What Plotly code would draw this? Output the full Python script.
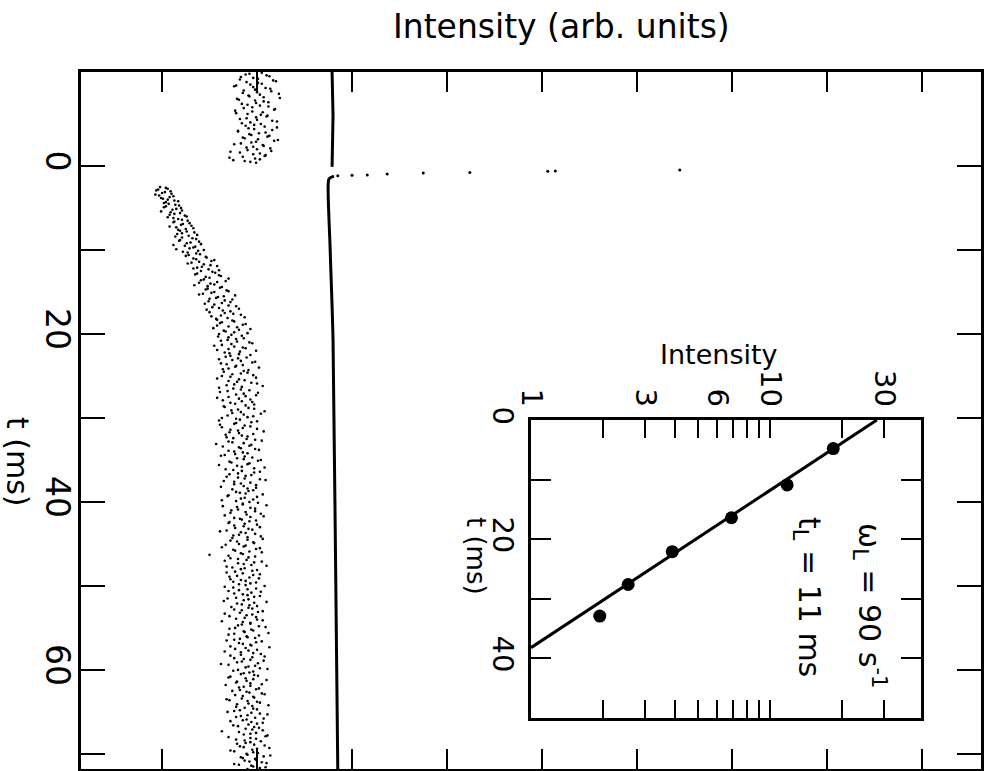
import numpy as np
import plotly.graph_objects as go

W, H = 992, 771

# ---------------- main panel data ----------------
# noisy probe signal, two interleaved sample sets every 0.2 ms (intensity, arb. units)
t_pre = np.round(np.arange(-11.1, -0.45, 0.2), 2)
I_pre = [205, 188, 213, 196, 182, 220, 201, 193, 176, 209,
         198, 215, 185, 203, 192, 224, 181, 207, 199, 190,
         212, 186, 218, 195, 178, 204, 210, 189, 200, 221,
         184, 197, 208, 191, 216, 180, 202, 194, 211, 187,
         222, 199, 183, 206, 196, 214, 190, 172, 203, 209,
         185, 198, 175, 193]
t_pre2 = np.round(np.arange(-11.0, -0.35, 0.2), 2)
I_pre2 = [192, 210, 183, 201, 217, 189, 205, 178, 196, 214,
          186, 200, 223, 191, 207, 179, 198, 212, 184, 203,
          195, 219, 177, 206, 190, 211, 199, 182, 216, 193,
          204, 188, 221, 197, 180, 209, 192, 213, 185, 201,
          218, 194, 176, 207, 189, 200, 215, 182, 196, 208,
          171, 203, 187, 199]

t_post = np.round(np.arange(2.5, 71.75, 0.2), 2)
I_post = [98, 106, 94, 103, 110, 97, 108, 101, 113, 104,
          107, 118, 102, 115, 121, 109, 113, 124, 106, 117,
          127, 112, 122, 131, 115, 125, 119, 134, 116, 128,
          121, 136, 118, 130, 141, 124, 133, 115, 138, 127,
          140, 125, 147, 136, 152, 131, 144, 158, 137, 149,
          141, 156, 135, 162, 150, 144, 167, 139, 155, 148,
          161, 146, 170, 152, 139, 165, 157, 174, 149, 163,
          155, 178, 160, 147, 172, 166, 183, 152, 169, 158,
          176, 161, 185, 170, 154, 181, 167, 190, 173, 159,
          186, 169, 179, 195, 163, 176, 188, 158, 182, 171,
          193, 167, 180, 174, 198, 162, 185, 177, 170, 191,
          165, 183, 196, 172, 158, 187, 179, 200, 168, 184,
          175, 192, 161, 186, 199, 170, 181, 164, 195, 177,
          188, 166, 197, 173, 183, 204, 169, 190, 178, 160,
          194, 176, 187, 163, 200, 180, 171, 196, 184, 168,
          189, 205, 174, 157, 192, 181, 198, 170, 185, 177,
          162, 195, 186, 201, 173, 190, 179, 208, 167, 184,
          197, 171, 188, 180, 203, 165, 193, 176, 186, 199,
          174, 191, 182, 206, 169, 187, 196, 178, 201, 185,
          164, 193, 180, 198, 172, 189, 207, 176, 184, 192,
          170, 200, 186, 177, 195, 161, 188, 181, 204, 174,
          190, 179, 197, 167, 186, 203, 175, 192, 183, 150,
          198, 172, 189, 205, 180, 194, 168, 187, 200, 177,
          185, 196, 171, 202, 183, 175, 193, 188, 166, 199,
          181, 204, 176, 190, 197, 169, 186, 210, 179, 192,
          173, 195, 184, 201, 166, 189, 199, 178, 206, 185,
          193, 180, 209, 171, 196, 187, 176, 202, 190, 182,
          168, 199, 185, 194, 213, 177, 191, 183, 204, 172,
          195, 186, 207, 179, 162, 198, 188, 211, 175, 192,
          183, 201, 170, 196, 189, 178, 205, 193, 181, 199,
          174, 192, 208, 185, 197, 168, 190, 203, 179, 195,
          187, 200, 176, 194, 211, 183, 198, 189, 172, 206,
          191, 180, 202, 195, 163, 199, 186, 209, 193, 178,
          204, 188, 197, 182, 213, 195, 176, 201, 190, 207,
          185, 199, 192, 210, 181, 196, 203]
t_post2 = np.round(np.arange(2.6, 71.85, 0.2), 2)
I_post2 = [104, 96, 109, 100, 93, 112, 99, 106, 117, 102,
           114, 104, 120, 111, 99, 119, 108, 126, 112, 121,
           113, 129, 120, 108, 133, 117, 126, 121, 137, 114,
           132, 119, 139, 126, 112, 135, 129, 144, 122, 136,
           128, 146, 133, 155, 139, 127, 151, 142, 133, 160,
           153, 137, 160, 146, 170, 141, 158, 151, 134, 163,
           148, 168, 155, 143, 177, 159, 150, 166, 172, 145,
           170, 153, 181, 164, 150, 175, 162, 187, 157, 174,
           163, 188, 158, 179, 193, 165, 176, 160, 184, 170,
           178, 162, 192, 173, 155, 185, 170, 199, 166, 181,
           172, 189, 160, 183, 195, 168, 178, 202, 164, 186,
           190, 174, 163, 199, 181, 170, 194, 176, 206, 160,
           183, 169, 201, 178, 188, 158, 193, 184, 172, 197,
           165, 191, 180, 208, 174, 186, 196, 163, 182, 200,
           178, 161, 193, 185, 172, 207, 181, 167, 190, 175,
           198, 170, 186, 194, 164, 183, 202, 176, 190, 166,
           187, 179, 204, 171, 192, 160, 184, 197, 175, 203,
           180, 194, 168, 187, 209, 176, 183, 199, 162, 190,
           196, 178, 188, 170, 200, 183, 163, 192, 185, 210,
           179, 198, 173, 188, 204, 166, 193, 182, 199, 171,
           187, 176, 203, 191, 168, 183, 198, 175, 190, 206,
           172, 196, 181, 188, 163, 199, 177, 205, 185, 170,
           191, 180, 166, 197, 186, 210, 174, 183, 195, 168,
           203, 179, 192, 172, 188, 199, 181, 208, 175, 190,
           170, 194, 185, 203, 178, 191, 165, 197, 184, 200,
           191, 176, 206, 182, 195, 171, 187, 200, 163, 193,
           184, 202, 177, 194, 186, 212, 170, 189, 198, 176,
           205, 181, 193, 172, 188, 200, 166, 196, 183, 208,
           176, 193, 184, 201, 170, 191, 203, 180, 196, 186,
           197, 172, 188, 210, 179, 193, 167, 186, 202, 182,
           189, 205, 177, 196, 184, 171, 200, 191, 212, 178,
           196, 182, 169, 203, 190, 178, 207, 185, 194, 200,
           175, 197, 188, 206, 181, 193, 211, 170, 199, 187,
           193, 179, 208, 186, 200, 172, 196, 189, 214, 183,
           198, 187, 205, 176, 194, 209, 190]

# reference (pump) trace: before, transient, after
t_refA = [-11.2, -6.0, 0.1]
I_refA = [279, 280, 279]
t_trans = [0.48, 0.60, 0.62, 0.77, 0.83, 0.95, 1.07, 1.10, 1.14]
I_trans = [645, 514, 506, 424, 375, 337, 316, 300, 285]
t_refB = [1.2, 1.5, 2.0, 10.0, 20.7, 40.0, 71.8]
I_refB = [281, 276, 275, 277, 280, 282, 285]

main_xticks = [100, 200, 300, 400, 500, 600, 700, 800, 900]
main_tticks = [0, 10, 20, 30, 40, 50, 60, 70]
main_tlabels = ["0", "", "20", "", "40", "", "60", ""]

# ---------------- inset data ----------------
inset_t = [4.8, 10.9, 16.4, 22.1, 27.6, 32.9]
inset_I = [18.4, 11.8, 6.9, 3.9, 2.55, 1.94]
fit_t = [0.0, 38.2]
fit_I = [28.0, 1.0]
inset_xticks = [1, 2, 3, 4, 5, 6, 7, 8, 9, 10, 20, 30]
inset_xlabels = ["1", "", "3", "", "", "6", "", "", "", "10", "", "30"]
inset_tticks = [0, 10, 20, 30, 40, 50]
inset_tlabels = ["0", "", "20", "", "40", ""]

FONT = "DejaVu Sans"

fig = go.Figure()
for tt, ii in [(t_pre, I_pre), (t_pre2, I_pre2), (t_post, I_post), (t_post2, I_post2)]:
    fig.add_trace(go.Scatter(x=ii, y=tt, mode="markers",
                             marker=dict(size=2.6, color="black"), xaxis="x", yaxis="y"))
fig.add_trace(go.Scatter(x=I_refA, y=t_refA, mode="lines",
                         line=dict(color="black", width=3), xaxis="x", yaxis="y"))
fig.add_trace(go.Scatter(x=I_trans, y=t_trans, mode="markers",
                         marker=dict(size=3, color="black"), xaxis="x", yaxis="y"))
fig.add_trace(go.Scatter(x=I_refB, y=t_refB, mode="lines",
                         line=dict(color="black", width=3, shape="spline"), xaxis="x", yaxis="y"))

fig.add_trace(go.Scatter(x=fit_I, y=fit_t, mode="lines",
                         line=dict(color="black", width=3), xaxis="x2", yaxis="y2"))
fig.add_trace(go.Scatter(x=inset_I, y=inset_t, mode="markers",
                         marker=dict(size=13, color="black"), xaxis="x2", yaxis="y2"))


def px_x(p):
    return p / W


def px_y(p):
    return 1 - p / H


axis_common = dict(showline=True, linecolor="black", linewidth=3, mirror="ticks",
                   ticks="inside", tickcolor="black", tickwidth=2, showgrid=False,
                   zeroline=False, automargin=False,
                   tickfont=dict(family=FONT, size=33, color="black"))

fig.update_layout(
    width=W, height=H, margin=dict(l=0, r=0, t=0, b=0, pad=0), autosize=False,
    paper_bgcolor="white", plot_bgcolor="rgba(0,0,0,0)", showlegend=False,
    xaxis=dict(axis_common, domain=[px_x(81), px_x(981)], range=[14.7, 962.1],
               tickmode="array", tickvals=main_xticks, showticklabels=False,
               ticklen=20, anchor="y"),
    yaxis=dict(axis_common, domain=[px_y(769), px_y(72)], range=[71.8, -11.2],
               tickmode="array", tickvals=main_tticks, ticktext=main_tlabels,
               tickangle=90, ticklen=24, ticklabelstandoff=-8, anchor="x"),
    xaxis2=dict(axis_common, domain=[px_x(531), px_x(921)], type="log",
                range=[0, 1.632], side="top", tickmode="array",
                tickvals=inset_xticks, ticktext=inset_xlabels, tickangle=90,
                ticklen=18, anchor="y2",
                tickfont=dict(family=FONT, size=29, color="black")),
    yaxis2=dict(axis_common, domain=[px_y(718), px_y(420)], range=[50, 0],
                tickmode="array", tickvals=inset_tticks, ticktext=inset_tlabels,
                tickangle=90, ticklen=20, anchor="x2",
                tickfont=dict(family=FONT, size=29, color="black")),
)

ann = [
    dict(text="Intensity (arb. units)", x=px_x(561), y=px_y(27), size=33, angle=0),
    dict(text="t (ms)", x=px_x(18), y=px_y(462), size=30, angle=90),
    dict(text="Intensity", x=px_x(719), y=px_y(355), size=27, angle=0),
    dict(text="t (ms)", x=px_x(476), y=px_y(556), size=26, angle=90),
    dict(text="ω<sub>L</sub> = 90 s<sup>-1</sup>", x=px_x(870), y=px_y(605), size=30, angle=90),
    dict(text="t<sub>L</sub> = 11 ms", x=px_x(808), y=px_y(597), size=30, angle=90),
]
for a in ann:
    fig.add_annotation(text=a["text"], x=a["x"], y=a["y"], xref="paper", yref="paper",
                       showarrow=False, textangle=a["angle"], xanchor="center",
                       yanchor="middle",
                       font=dict(family=FONT, size=a["size"], color="black"))

fig.write_html("out.html")
